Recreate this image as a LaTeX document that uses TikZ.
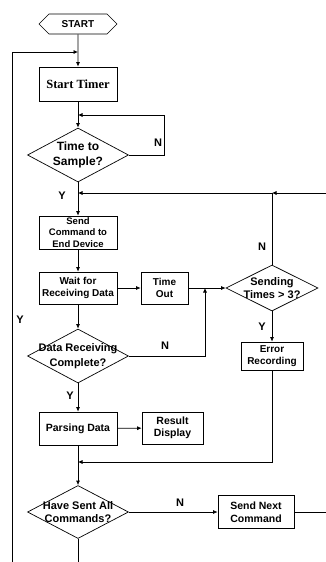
\documentclass[tikz,border=0pt]{standalone}
\usepackage{fontspec}
\setmainfont{Liberation Sans}
\newfontfamily\timerfont{Liberation Serif}
\usetikzlibrary{shapes.geometric,shapes.symbols,arrows.meta}

\begin{document}
\begin{tikzpicture}[x=1pt, y=-1pt, line width=0.7pt, >={Latex[length=4.5pt,width=4pt]},
  process node/.style={draw, rectangle, inner sep=0pt, align=center, minimum width=78pt, minimum height=33pt, font=\fontsize{10}{12}\selectfont\bfseries},
  decision node/.style={draw, diamond, inner sep=0pt, minimum width=101pt, minimum height=54pt},
  decision text/.style={align=center, inner sep=0pt, font=\fontsize{11}{13}\selectfont\bfseries},
  branch/.style={inner sep=0pt, font=\fontsize{11}{13}\selectfont\bfseries}]
\useasboundingbox (0,0) rectangle (326,562);

\node[draw, signal, signal to=east and west, signal pointer angle=90, minimum width=78pt, minimum height=20pt, inner sep=0pt, font=\fontsize{10}{12}\selectfont\bfseries] (start) at (78,24) {START};
\node[process node, minimum height=34pt, font=\timerfont\fontsize{12.5}{14}\selectfont\bfseries] (timer) at (78,84) {Start Timer};
\node[decision node, label={[decision text, font=\fontsize{12}{15}\selectfont\bfseries]center:Time to\\Sample?}] (sample) at (78,155) {};
\node[process node, font=\fontsize{9.5}{11.5}\selectfont\bfseries] (send) at (78,232.5) {Send\\Command to\\End Device};
\node[process node, minimum height=32pt] (wait) at (78,288) {Wait for\\Receiving Data};
\node[process node, minimum width=47pt, minimum height=32pt] (timeout) at (164.5,288) {Time\\Out};
\node[decision node, minimum width=92pt, minimum height=46pt, label={[decision text]center:Sending\\Times > 3?}] (times) at (272,288) {};
\node[process node, minimum width=62pt, minimum height=28pt] (error) at (272,356) {Error\\Recording};
\node[decision node, label={[decision text, font=\fontsize{11}{15}\selectfont\bfseries]center:Data Receiving\\Complete?}] (check) at (78,356) {};
\node[process node, font=\fontsize{10.5}{12.5}\selectfont\bfseries] (parse) at (78,428.5) {Parsing Data};
\node[process node, minimum width=61pt, minimum height=32pt, font=\fontsize{10.5}{12.5}\selectfont\bfseries] (result) at (172.5,428) {Result\\Display};
\node[decision node, minimum height=53pt, label={[decision text]center:Have Sent All\\Commands?}] (alldone) at (78,512) {};
\node[process node, minimum width=76pt, font=\fontsize{10.5}{12.5}\selectfont\bfseries] (next) at (256,512) {Send Next\\Command};

\coordinate (loop bottom) at (12,562);
\coordinate (loop top) at (12,52);
\coordinate (wait loop) at (164,115);
\coordinate (return top) at (326,193);
\coordinate (retry) at (272,193);
\coordinate (merge) at (205,288);
\coordinate (collect) at (78,462);
\coordinate (return bottom) at (326,512);
\coordinate (end) at (78,562);

\node[branch] (y loop) at (20,320) {Y};
\node[branch] (n sample) at (158,143) {N};
\node[branch] (y sample) at (62,196) {Y};
\node[branch] (n times) at (262,247) {N};
\node[branch] (y times) at (262,327) {Y};
\node[branch] (n check) at (165,346) {N};
\node[branch] (y check) at (70,396) {Y};
\node[branch] (n alldone) at (180,503) {N};

\draw[->] (start) -- (timer);
\draw[->] (loop bottom) -- (loop top) -- (loop top -| timer);
\draw[->] (timer) -- (sample);
\draw[->] (sample.east) -| (wait loop) -- (wait loop -| timer);
\draw[->] (sample) -- (send);
\draw[->] (return top) -- (retry);
\draw[->] (retry) -- (retry -| send);
\draw (times) -- (retry);
\draw[->] (send) -- (wait);
\draw[->] (wait) -- (timeout);
\draw (timeout) -- (merge);
\draw[->] (merge) -- (times);
\draw[->] (wait) -- (check);
\draw[->] (check.east) -| (merge);
\draw[->] (check) -- (parse);
\draw[->] (parse) -- (result);
\draw[->] (times) -- (error);
\draw[->] (error) |- (collect);
\draw[->] (parse) -- (alldone);
\draw[->] (alldone) -- (next);
\draw (next) -- (return bottom);
\draw (alldone) -- (end);
\end{tikzpicture}
\end{document}
